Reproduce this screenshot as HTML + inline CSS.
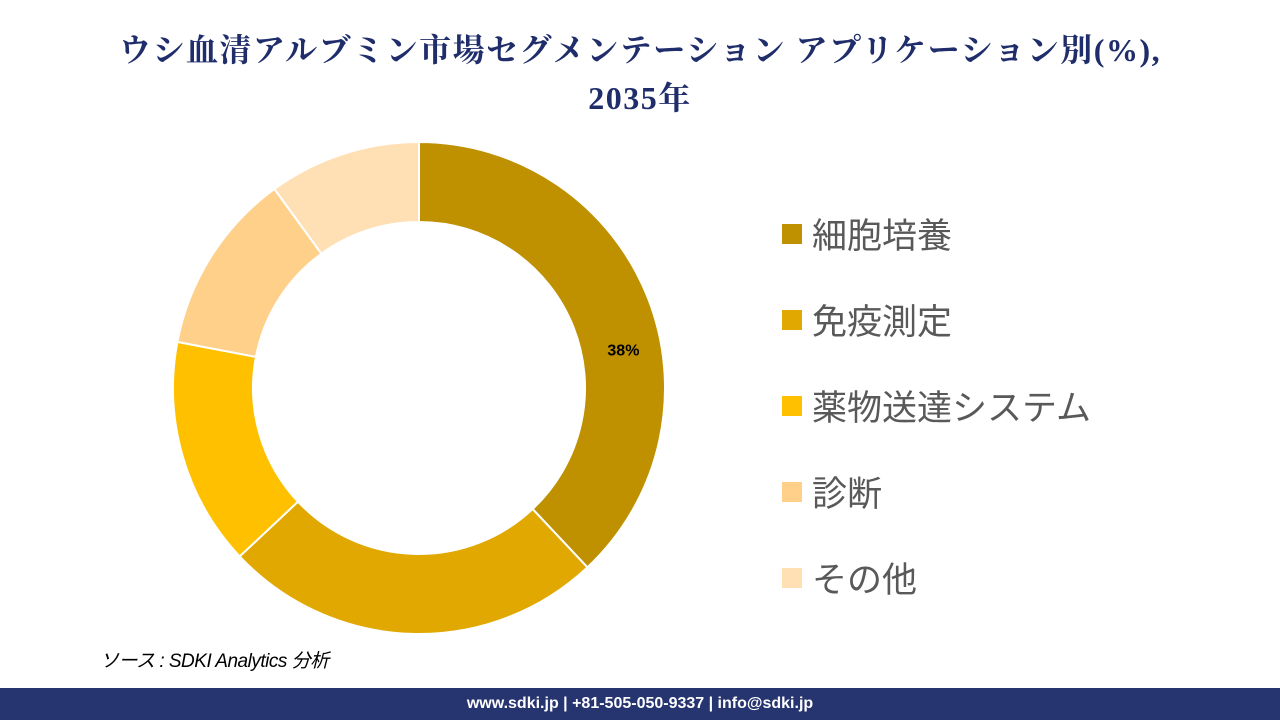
<!DOCTYPE html>
<html><head><meta charset="utf-8">
<style>
body{margin:0;width:1280px;height:720px;background:#fff;position:relative;overflow:hidden;font-family:"Liberation Sans","Noto Sans CJK JP",sans-serif}
#title{position:absolute;top:26px;left:0;width:1280px;text-align:center;font-family:"Liberation Serif","Noto Serif CJK SC",serif;font-size:32px;font-weight:bold;line-height:48px;color:#1f2d6b;letter-spacing:1.5px}
.leg{position:absolute;left:782px;font-size:35px;color:#595959;display:flex;align-items:center}
.leg span.sw{width:20px;height:20px;margin-right:10px;display:inline-block}
#source{position:absolute;left:100px;top:646px;font-size:19px;font-style:italic;color:#000;letter-spacing:-0.5px}
#footer{position:absolute;left:0;top:688px;width:1280px;height:32px;background:#263470;color:#fff;font-weight:bold;font-size:16px;text-align:center;line-height:32px}
</style></head><body>
<div id="title">ウシ血清アルブミン市場セグメンテーション アプリケーション別(%),<br>2035年</div>
<svg id="chart" width="1280" height="720" style="position:absolute;left:0;top:0"></svg>
<div id="legend"></div>
<div id="source">ソース : SDKI Analytics 分析</div>
<div id="footer">www.sdki.jp | +81-505-050-9337 | info@sdki.jp</div>
<script>
const categories=["細胞培養","免疫測定","薬物送達システム","診断","その他"];
const values=[38,25,15,12,10];
const labels=["38%","","","",""];
const colors=["#BF9000","#E0A800","#FFC000","#FFD08A","#FFE0B5"];
const cx=419,cy=388,R=246,r=166;
const svg=document.getElementById('chart');
const ns="http://www.w3.org/2000/svg";
const total=values.reduce((a,b)=>a+b,0);
function pt(a,rad){return [cx+rad*Math.sin(a),cy-rad*Math.cos(a)];}
let acc=0;
values.forEach((v,i)=>{
  const a0=acc/total*2*Math.PI;acc+=v;const a1=acc/total*2*Math.PI;
  const lg=(a1-a0)>Math.PI?1:0;
  const [x0,y0]=pt(a0,R),[x1,y1]=pt(a1,R),[x2,y2]=pt(a1,r),[x3,y3]=pt(a0,r);
  const p=document.createElementNS(ns,'path');
  p.setAttribute('d',`M${x0},${y0}A${R},${R} 0 ${lg} 1 ${x1},${y1}L${x2},${y2}A${r},${r} 0 ${lg} 0 ${x3},${y3}Z`);
  p.setAttribute('fill',colors[i]);p.setAttribute('stroke','#fff');p.setAttribute('stroke-width','2');
  
  
  svg.appendChild(p);
  if(labels[i]){
    const am=a0+0.58*(a1-a0);const [lx,ly]=pt(am,208);
    const t=document.createElementNS(ns,'text');
    t.setAttribute('x',lx);t.setAttribute('y',ly+6);t.setAttribute('text-anchor','middle');
    t.setAttribute('font-size','16');t.setAttribute('font-weight','bold');t.setAttribute('font-family','Liberation Sans, sans-serif');
    t.textContent=labels[i];
    
    
    svg.appendChild(t);
  }
});
const lg=document.getElementById('legend');
categories.forEach((c,i)=>{
  const d=document.createElement('div');d.className='leg';d.style.top=(208+i*86)+'px';
  d.innerHTML=`<span class="sw" style="background:${colors[i]}"></span>${c}`;
  
  
  lg.appendChild(d);
});
</script>
</body></html>
